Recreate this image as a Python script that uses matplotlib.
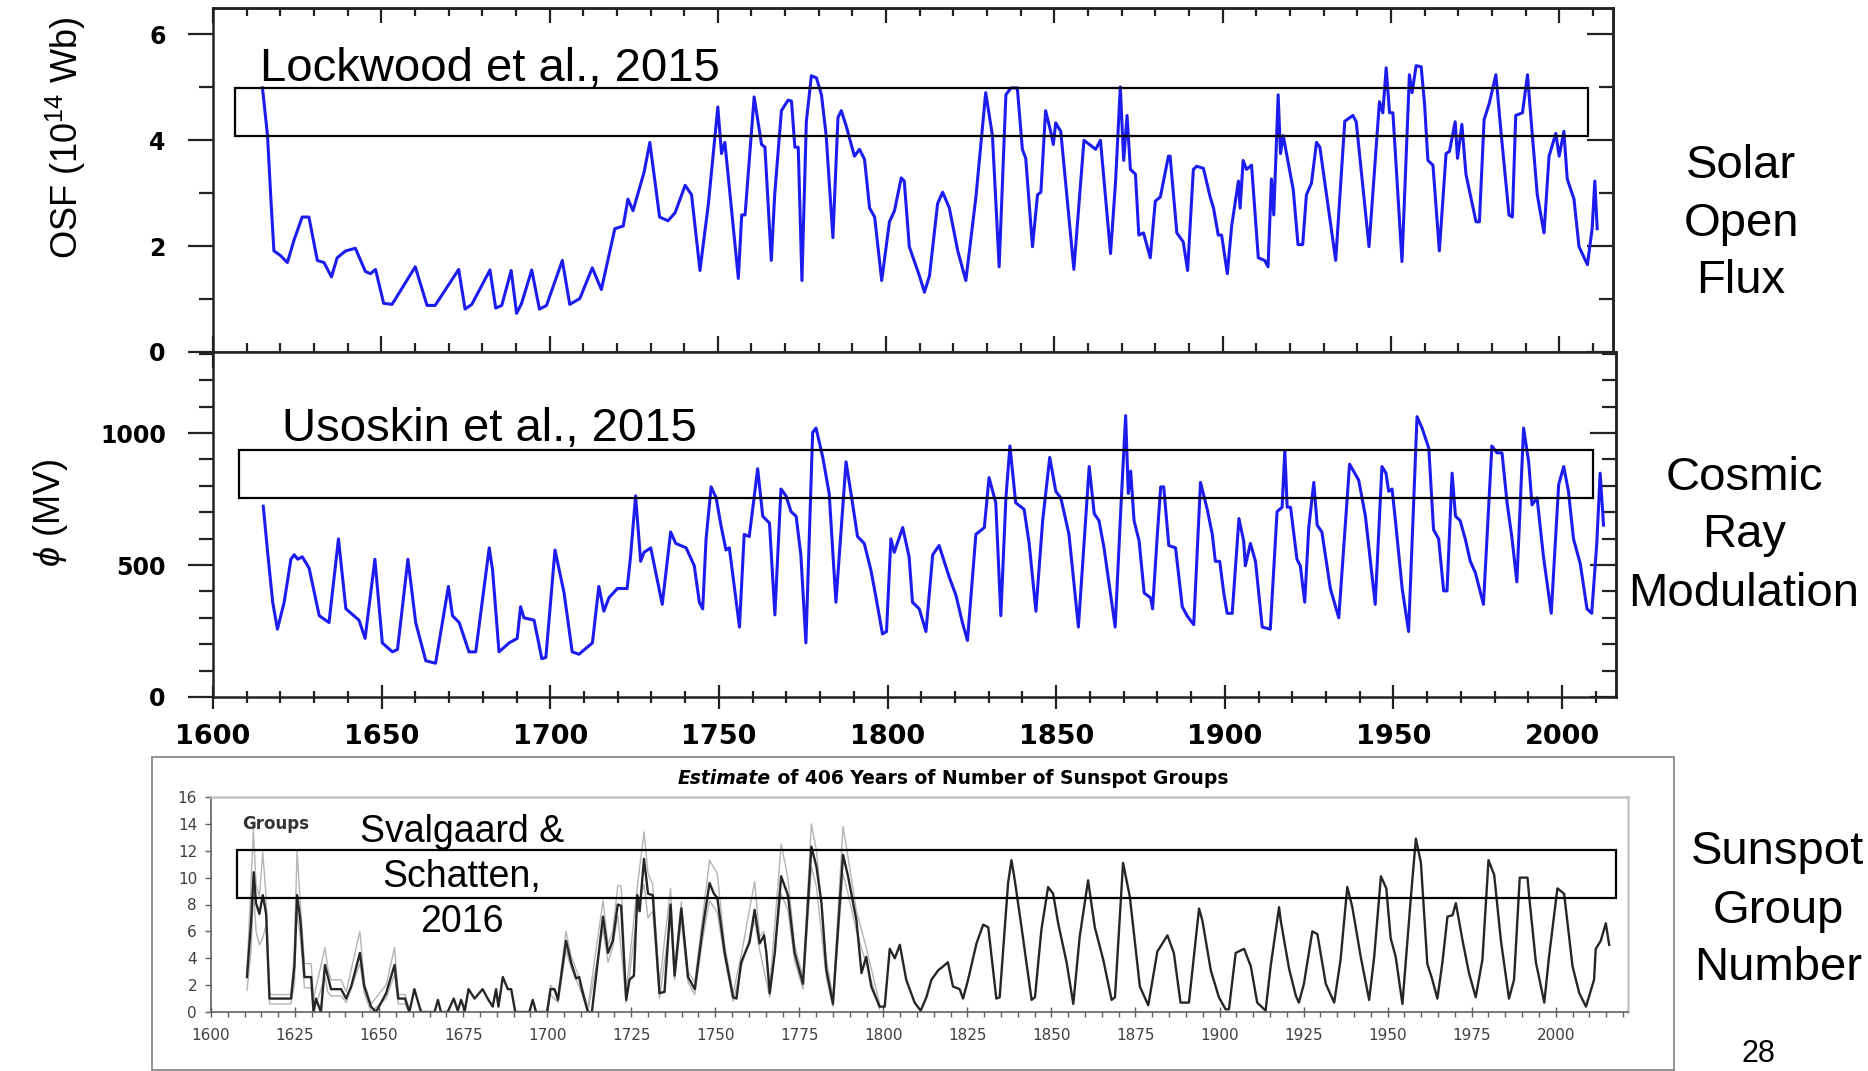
import numpy as np
import matplotlib
matplotlib.use("Agg")
import matplotlib.pyplot as plt
from matplotlib.ticker import MultipleLocator, NullFormatter
from matplotlib.patches import Rectangle

plt.rcParams['font.family'] = ['Liberation Sans', 'DejaVu Sans']
plt.rcParams['mathtext.fontset'] = 'custom'
plt.rcParams['mathtext.rm'] = 'Liberation Sans'
plt.rcParams['mathtext.it'] = 'Liberation Sans:italic'

nan = np.nan

# ---------------- data ----------------
year_ticks = [1600, 1650, 1700, 1750, 1800, 1850, 1900, 1950, 2000]
osf_ticks = [0, 2, 4, 6]
phi_ticks = [0, 500, 1000]
grp_year_ticks = [1600, 1625, 1650, 1675, 1700, 1725, 1750, 1775, 1800, 1825,
                  1850, 1875, 1900, 1925, 1950, 1975, 2000]
grp_ticks = [0, 2, 4, 6, 8, 10, 12, 14, 16]

# open solar flux (1e14 Wb), Lockwood et al. 2015
osf_year = [
    1614.7, 1616.2, 1617.2, 1618.1, 1620.1, 1622.1, 1624.1, 1626.5, 1628.5, 1631.0,
    1633.0, 1635.2, 1636.9, 1639.4, 1642.3, 1645.3, 1646.8, 1648.3, 1650.7, 1653.2,
    1660.1, 1663.6, 1666.0, 1673.0, 1674.9, 1676.9, 1682.3, 1684.0, 1685.8, 1688.6,
    1690.2, 1691.7, 1694.7, 1697.0, 1699.1, 1703.8, 1706.0, 1709.0, 1712.7, 1715.4,
    1719.4, 1721.9, 1723.3, 1724.8, 1728.1, 1729.8, 1732.7, 1735.2, 1737.3, 1740.3,
    1742.2, 1744.7, 1747.2, 1750.0, 1751.1, 1752.1, 1756.1, 1757.1, 1758.1, 1760.8,
    1763.0, 1764.0, 1765.9, 1766.9, 1768.9, 1770.9, 1771.9, 1772.9, 1773.9, 1775.0,
    1776.3, 1777.8, 1779.3, 1780.8, 1782.2, 1784.2, 1785.7, 1786.7, 1788.2, 1790.6,
    1792.1, 1793.6, 1795.1, 1796.6, 1798.7, 1801.0, 1802.5, 1804.5, 1805.4, 1806.9,
    1809.9, 1811.4, 1812.9, 1815.3, 1816.8, 1818.8, 1821.3, 1823.7, 1826.7, 1829.6,
    1831.6, 1833.6, 1835.6, 1837.1, 1839.0, 1840.5, 1841.5, 1843.5, 1845.0, 1846.0,
    1847.4, 1848.9, 1849.7, 1850.4, 1851.9, 1855.8, 1858.8, 1862.3, 1863.7, 1866.7,
    1868.2, 1869.6, 1870.6, 1871.6, 1872.6, 1874.1, 1875.1, 1876.5, 1878.5, 1880.0,
    1881.5, 1883.9, 1884.4, 1886.4, 1888.3, 1889.6, 1891.3, 1892.3, 1894.3, 1896.3,
    1897.3, 1898.7, 1899.7, 1901.4, 1902.7, 1904.7, 1905.2, 1906.1, 1907.1, 1908.6,
    1910.6, 1912.5, 1913.5, 1914.5, 1915.2, 1916.5, 1917.2, 1918.0, 1919.0, 1921.0,
    1922.4, 1923.8, 1924.9, 1926.4, 1927.9, 1928.9, 1933.6, 1936.3, 1938.7, 1939.7,
    1943.5, 1946.6, 1947.6, 1948.6, 1949.6, 1950.6, 1953.3, 1955.5, 1956.3, 1957.5,
    1959.0, 1960.0, 1961.0, 1962.5, 1964.4, 1966.4, 1967.4, 1969.1, 1969.8, 1971.1,
    1972.3, 1975.3, 1976.3, 1977.7, 1979.2, 1981.2, 1982.7, 1985.1, 1986.1, 1987.1,
    1989.1, 1990.6, 1991.6, 1993.5, 1995.5, 1997.0, 1999.0, 2000.0, 2001.4, 2002.4,
    2004.4, 2005.9, 2008.4, 2009.8, 2010.6, 2011.3]
osf_val = [
    4.99, 4.09, 2.89, 1.91, 1.82, 1.69, 2.12, 2.55, 2.55, 1.73,
    1.69, 1.42, 1.78, 1.91, 1.96, 1.52, 1.48, 1.56, 0.92, 0.90,
    1.61, 0.88, 0.88, 1.56, 0.81, 0.90, 1.55, 0.83, 0.88, 1.54,
    0.73, 0.92, 1.55, 0.81, 0.88, 1.73, 0.90, 1.01, 1.59, 1.18,
    2.33, 2.38, 2.89, 2.67, 3.40, 3.96, 2.55, 2.48, 2.63, 3.15,
    2.97, 1.54, 2.80, 4.63, 3.75, 3.96, 1.39, 2.59, 2.59, 4.82,
    3.92, 3.87, 1.73, 2.97, 4.56, 4.76, 4.74, 3.87, 3.87, 1.35,
    4.35, 5.22, 5.18, 4.86, 4.09, 2.16, 4.43, 4.56, 4.26, 3.70,
    3.83, 3.64, 2.72, 2.55, 1.35, 2.46, 2.67, 3.29, 3.23, 1.99,
    1.44, 1.13, 1.44, 2.80, 3.02, 2.72, 1.91, 1.35, 2.93, 4.90,
    4.09, 1.61, 4.86, 4.99, 4.99, 3.83, 3.66, 1.99, 2.97, 3.02,
    4.56, 4.17, 3.92, 4.33, 4.17, 1.56, 4.00, 3.83, 4.00, 1.86,
    3.23, 5.01, 3.62, 4.47, 3.45, 3.36, 2.21, 2.25, 1.78, 2.85,
    2.93, 3.70, 3.70, 2.25, 2.08, 1.54, 3.45, 3.51, 3.47, 2.93,
    2.72, 2.21, 2.21, 1.48, 2.39, 3.23, 2.72, 3.62, 3.45, 3.53,
    1.78, 1.73, 1.61, 3.27, 2.59, 4.86, 3.75, 4.09, 3.75, 3.06,
    2.03, 2.03, 2.97, 3.19, 3.96, 3.87, 1.73, 4.36, 4.47, 4.35,
    1.99, 4.73, 4.52, 5.37, 4.52, 4.52, 1.71, 5.24, 4.90, 5.41,
    5.39, 4.69, 3.62, 3.53, 1.91, 3.75, 3.79, 4.35, 3.66, 4.30,
    3.36, 2.46, 2.46, 4.39, 4.69, 5.24, 4.17, 2.59, 2.55, 4.47,
    4.52, 5.24, 4.43, 2.97, 2.25, 3.70, 4.13, 3.70, 4.17, 3.27,
    2.89, 1.99, 1.65, 2.33, 3.23, 2.33]

# cosmic ray modulation potential (MV), Usoskin et al. 2015
phi_year = [
    1614.9, 1616.2, 1617.7, 1619.1, 1621.1, 1623.1, 1624.1, 1625.1, 1626.5, 1628.5,
    1631.5, 1634.4, 1637.2, 1639.4, 1643.3, 1645.1, 1648.0, 1650.2, 1653.2, 1654.7,
    1657.8, 1660.1, 1663.1, 1666.0, 1669.8, 1671.0, 1673.0, 1675.9, 1677.9, 1681.9,
    1682.9, 1684.8, 1687.8, 1690.2, 1691.2, 1692.2, 1695.2, 1697.5, 1698.7, 1701.4,
    1704.1, 1706.5, 1708.5, 1712.5, 1714.4, 1715.9, 1717.4, 1719.9, 1722.8, 1723.8,
    1725.3, 1726.8, 1727.8, 1729.8, 1733.2, 1735.7, 1737.2, 1740.3, 1742.7, 1744.2,
    1745.2, 1746.2, 1747.7, 1749.2, 1750.6, 1752.1, 1753.1, 1756.1, 1757.5, 1759.0,
    1761.5, 1763.0, 1765.0, 1766.6, 1768.4, 1769.9, 1771.4, 1772.9, 1774.3, 1775.8,
    1777.8, 1778.8, 1780.8, 1782.7, 1784.7, 1787.7, 1789.6, 1791.1, 1793.1, 1795.1,
    1796.6, 1798.5, 1799.7, 1801.0, 1802.0, 1804.5, 1806.4, 1807.4, 1809.4, 1811.4,
    1813.4, 1815.3, 1818.3, 1820.3, 1822.2, 1823.7, 1826.2, 1828.7, 1830.1, 1832.1,
    1833.6, 1835.1, 1836.3, 1838.0, 1840.5, 1842.0, 1844.0, 1846.0, 1848.1, 1849.9,
    1851.4, 1853.8, 1856.6, 1859.8, 1861.3, 1862.7, 1864.2, 1867.5, 1869.2, 1870.6,
    1871.4, 1872.1, 1873.1, 1874.6, 1876.1, 1878.0, 1878.6, 1880.0, 1881.0, 1881.9,
    1883.4, 1885.4, 1887.4, 1888.8, 1890.8, 1892.8, 1894.8, 1896.3, 1897.2, 1898.5,
    1899.7, 1900.7, 1902.2, 1904.2, 1905.6, 1906.1, 1907.6, 1909.1, 1911.1, 1913.5,
    1915.5, 1917.0, 1917.8, 1918.5, 1919.5, 1921.4, 1922.4, 1923.7, 1924.9, 1926.4,
    1927.4, 1928.8, 1931.3, 1933.8, 1937.0, 1939.7, 1941.7, 1944.6, 1946.6, 1947.8,
    1948.6, 1949.6, 1950.6, 1952.6, 1954.5, 1957.0, 1958.5, 1960.5, 1961.9, 1963.4,
    1964.9, 1965.9, 1967.4, 1968.4, 1969.8, 1971.3, 1972.8, 1974.3, 1976.7, 1979.2,
    1980.7, 1982.2, 1983.7, 1985.1, 1986.6, 1988.6, 1990.1, 1991.1, 1992.6, 1994.5,
    1996.8, 1999.0, 2000.5, 2001.9, 2003.4, 2005.4, 2007.4, 2008.8, 2010.3, 2011.3,
    2012.3]
phi_val = [
    723, 548, 359, 257, 359, 522, 539, 522, 531, 488,
    308, 282, 599, 334, 291, 222, 522, 205, 171, 180,
    522, 282, 137, 128, 419, 308, 282, 171, 171, 565,
    480, 171, 205, 222, 342, 300, 291, 145, 150, 557,
    394, 171, 162, 205, 419, 325, 376, 411, 411, 531,
    762, 514, 548, 565, 351, 625, 582, 565, 497, 359,
    334, 599, 796, 754, 651, 557, 565, 265, 616, 608,
    865, 685, 659, 311, 788, 762, 702, 685, 539, 205,
    1002, 1019, 908, 771, 359, 891, 736, 608, 582, 479,
    376, 239, 248, 599, 548, 642, 531, 359, 334, 248,
    539, 574, 454, 385, 282, 214, 616, 642, 831, 736,
    308, 754, 951, 736, 711, 582, 325, 668, 908, 779,
    754, 616, 265, 873, 694, 668, 565, 265, 719, 1066,
    771, 856, 668, 591, 394, 376, 334, 616, 796, 796,
    574, 565, 342, 308, 274, 813, 711, 616, 514, 514,
    394, 317, 317, 676, 591, 497, 582, 514, 265, 257,
    702, 719, 934, 719, 719, 522, 497, 359, 642, 813,
    651, 625, 411, 300, 882, 822, 685, 351, 873, 848,
    779, 788, 668, 411, 248, 1062, 1019, 942, 634, 599,
    402, 402, 848, 685, 668, 599, 514, 471, 351, 951,
    925, 925, 736, 608, 436, 1019, 891, 728, 754, 531,
    317, 805, 873, 779, 599, 505, 334, 317, 582, 848,
    651]

# sunspot groups, Svalgaard & Schatten 2016
grp_year = [
    1610.7, 1611.9, 1612.7, 1613.4, 1614.4, 1615.4, 1616.4, 1617.4, 1623.8, 1624.8,
    1625.6, 1626.6, 1627.8, 1629.8, 1630.5, 1631.2, 1632.7, 1633.9, 1634.7, 1635.7,
    1638.7, 1640.2, 1641.7, 1644.3, 1645.6, 1647.6, 1649.1, 1652.1, 1654.6, 1655.7,
    1657.7, 1659.0, 1660.5, 1662.0, 1662.5, 1666.5, 1667.5, 1668.4, 1670.4, 1672.2,
    1673.4, 1674.4, 1675.5, 1676.6, 1678.4, 1680.8, 1682.3, 1683.8, 1684.8, 1685.5,
    1686.8, 1688.3, 1689.3, 1690.5, 1694.7, 1695.7, 1696.7, 1700.0, 1701.0, 1702.2,
    1703.2, 1705.6, 1707.1, 1708.6, 1709.5, 1710.3, 1712.1, 1713.3, 1716.6, 1718.1,
    1719.5, 1721.0, 1722.0, 1723.5, 1724.5, 1725.8, 1726.8, 1727.5, 1728.8, 1730.0,
    1731.4, 1733.4, 1734.9, 1736.7, 1737.9, 1739.9, 1741.9, 1743.9, 1746.3, 1748.3,
    1749.6, 1750.6, 1752.8, 1755.3, 1756.3, 1757.7, 1760.2, 1761.7, 1763.2, 1764.5,
    1765.2, 1766.2, 1767.7, 1769.6, 1771.6, 1773.6, 1776.1, 1778.6, 1780.1, 1781.6,
    1783.0, 1785.0, 1788.0, 1789.5, 1792.0, 1793.5, 1794.9, 1796.4, 1798.9, 1800.4,
    1801.9, 1803.4, 1804.9, 1806.8, 1809.3, 1811.1, 1812.8, 1814.3, 1816.3, 1817.8,
    1819.2, 1820.7, 1822.7, 1823.7, 1825.2, 1827.7, 1829.7, 1831.2, 1833.6, 1834.6,
    1837.1, 1838.1, 1839.1, 1841.1, 1844.1, 1845.1, 1847.0, 1849.0, 1850.5, 1852.0,
    1854.5, 1856.5, 1858.4, 1860.9, 1862.9, 1865.4, 1867.9, 1868.9, 1871.3, 1873.3,
    1876.3, 1878.8, 1881.5, 1884.5, 1886.4, 1888.4, 1890.9, 1893.9, 1894.9, 1897.4,
    1899.8, 1901.8, 1902.8, 1904.8, 1907.3, 1909.3, 1911.2, 1913.7, 1915.2, 1917.7,
    1918.2, 1920.7, 1922.7, 1923.6, 1925.1, 1927.6, 1929.1, 1931.6, 1934.1, 1936.0,
    1938.0, 1939.5, 1942.0, 1944.5, 1946.0, 1948.0, 1949.6, 1950.9, 1952.4, 1954.4,
    1956.9, 1958.4, 1959.9, 1961.8, 1963.3, 1964.8, 1966.3, 1967.8, 1969.3, 1970.3,
    1972.3, 1974.2, 1976.2, 1978.2, 1980.0, 1981.7, 1983.7, 1986.1, 1987.6, 1989.3,
    1991.6, 1992.1, 1994.1, 1996.6, 1998.0, 2000.5, 2002.5, 2005.0, 2007.0, 2009.0,
    2011.4, 2011.9, 2013.4, 2014.9, 2015.9]
grp_val = [
    2.6, 6.6, 10.4, 8.1, 7.3, 8.7, 7.3, 1.0, 1.0, 3.4,
    8.7, 6.8, 2.6, 2.6, 0.0, 1.0, 0.0, 3.5, 2.7, 1.7,
    1.7, 1.0, 1.9, 4.4, 1.9, 0.4, 0.0, 1.4, 3.5, 1.0,
    1.0, 0.0, 1.7, 0.4, 0.0, 0.0, 0.9, 0.0, 0.0, 1.0,
    0.1, 0.9, 0.1, 1.7, 1.0, 1.7, 1.0, 0.4, 1.7, 0.4,
    2.6, 1.7, 1.7, 0.0, 0.0, 0.9, 0.0, 0.0, 1.7, 1.7,
    0.9, 5.3, 3.7, 2.5, 2.6, 1.7, 0.0, 0.0, 7.1, 4.4,
    5.3, 8.0, 7.9, 0.9, 2.4, 2.7, 8.7, 7.5, 11.4, 8.8,
    8.7, 1.4, 1.5, 8.0, 2.7, 7.7, 2.6, 1.7, 6.3, 9.6,
    8.8, 8.5, 4.4, 1.1, 1.0, 3.7, 5.2, 7.6, 5.1, 5.7,
    4.4, 1.4, 4.4, 10.1, 8.7, 4.4, 2.1, 12.3, 10.8, 8.1,
    3.2, 0.6, 11.7, 10.1, 6.8, 2.9, 4.1, 1.9, 0.4, 0.4,
    4.7, 4.0, 5.0, 2.4, 0.7, 0.1, 1.1, 2.4, 3.1, 3.4,
    3.7, 1.9, 1.7, 1.0, 2.4, 5.1, 6.5, 6.3, 1.0, 1.1,
    9.6, 11.3, 9.8, 6.3, 0.9, 1.1, 6.1, 9.3, 8.8, 6.6,
    3.7, 0.6, 5.6, 9.8, 6.3, 3.9, 0.9, 1.1, 11.1, 8.6,
    1.9, 0.5, 4.5, 5.7, 4.4, 0.7, 0.7, 7.7, 6.8, 3.1,
    1.1, 0.2, 0.2, 4.4, 4.7, 3.4, 0.7, 0.1, 3.4, 7.8,
    6.8, 3.2, 1.2, 0.7, 2.1, 6.0, 5.8, 2.1, 0.7, 3.9,
    9.3, 7.8, 4.1, 0.9, 4.1, 10.1, 9.2, 5.5, 4.1, 0.6,
    8.5, 12.9, 11.1, 3.6, 2.4, 1.0, 3.7, 7.1, 7.2, 8.1,
    5.3, 2.9, 1.1, 3.9, 11.3, 10.2, 5.3, 1.0, 2.4, 10.0,
    10.0, 8.6, 3.7, 0.7, 4.1, 9.2, 8.8, 3.4, 1.4, 0.4,
    2.4, 4.7, 5.3, 6.6, 5.0]

# grey upper / lower estimates (only visibly apart from the main line before 1800)
grp_hi_year = [
    1610.7, 1611.8, 1612.6, 1613.4, 1614.4, 1615.4, 1616.4, 1617.4, 1623.8, 1624.8,
    1625.6, 1626.6, 1627.8, 1629.8, 1630.5, 1633.9, 1634.8, 1635.7, 1638.7, 1640.2,
    1644.3, 1645.6, 1647.6, 1652.1, 1654.6, 1655.7, 1657.7, 1659.0, nan,
    1700.0, 1701.0, 1703.2, 1705.6, 1707.1, 1710.3, 1712.1, 1716.6, 1718.1, 1719.5,
    1721.0, 1722.0, 1723.5, 1726.8, 1728.8, 1730.0, 1731.4, 1733.4, 1736.7, 1737.9,
    1739.9, 1741.9, 1743.9, 1746.3, 1748.3, 1750.6, 1752.8, 1755.3, 1757.7, 1761.7,
    1763.2, 1764.5, 1766.2, 1769.6, 1771.6, 1773.6, 1776.1, 1778.6, 1780.1, 1783.0,
    1785.0, 1788.0, 1789.5, 1792.0, 1794.9, 1798.9]
grp_hi_val = [
    3.0, 9.0, 13.6, 9.5, 8.6, 11.9, 8.5, 1.3, 1.3, 4.5,
    12.0, 8.0, 3.6, 3.6, 1.0, 4.8, 3.2, 2.4, 2.4, 1.5,
    6.0, 2.2, 0.6, 2.0, 4.8, 1.3, 1.3, 0.2, nan,
    0.3, 2.0, 1.2, 6.0, 4.2, 2.0, 0.3, 8.3, 5.0, 6.0,
    9.4, 9.4, 1.5, 9.3, 13.4, 10.3, 9.5, 2.0, 9.2, 3.2,
    8.2, 3.0, 2.2, 7.2, 11.3, 10.3, 5.0, 1.4, 4.2, 9.7,
    5.6, 6.0, 1.8, 12.5, 10.0, 5.0, 2.6, 14.0, 12.0, 4.0,
    1.0, 13.8, 11.5, 7.5, 4.8, 0.6]
grp_lo_year = [
    1610.7, 1611.9, 1612.7, 1613.4, 1614.4, 1615.4, 1616.4, 1617.4, 1623.8, 1624.8,
    1625.6, 1626.6, 1627.8, 1629.8, 1630.5, 1633.9, 1634.7, 1635.7, 1638.7, 1640.2,
    1644.3, 1645.6, 1647.6, 1652.1, 1654.6, 1655.7, 1657.7, 1659.0, nan,
    1700.0, 1701.0, 1703.2, 1705.6, 1707.1, 1710.3, 1712.1, 1716.6, 1718.1, 1719.5,
    1721.0, 1723.5, 1726.8, 1728.8, 1730.0, 1731.4, 1733.4, 1736.7, 1737.9, 1739.9,
    1741.9, 1743.9, 1746.3, 1748.3, 1750.6, 1752.8, 1755.3, 1757.7, 1761.7, 1763.2,
    1766.2, 1769.6, 1771.6, 1773.6, 1776.1, 1778.6, 1780.1, 1783.0, 1785.0, 1788.0,
    1789.5, 1792.0, 1794.9, 1798.9]
grp_lo_val = [
    1.6, 4.5, 9.0, 6.0, 5.0, 5.5, 6.5, 0.6, 0.6, 2.0,
    7.5, 5.5, 1.8, 1.8, 0.0, 2.6, 1.5, 1.2, 1.2, 0.7,
    3.6, 1.4, 0.0, 1.0, 2.8, 0.6, 0.6, 0.0, nan,
    0.0, 1.3, 0.7, 4.6, 3.3, 1.4, 0.0, 6.2, 3.7, 4.8,
    7.2, 0.7, 7.5, 9.5, 7.0, 7.5, 1.0, 7.0, 2.4, 6.8,
    2.2, 1.3, 5.5, 8.3, 7.4, 4.0, 0.8, 3.3, 6.8, 4.6,
    1.1, 8.8, 7.6, 3.8, 1.7, 10.8, 9.3, 2.6, 0.4, 10.3,
    8.8, 6.0, 3.6, 0.2]

# ---------------- layout ----------------
W, H = 1868, 1071
fig = plt.figure(figsize=(W / 100, H / 100), dpi=100)
fig.patch.set_facecolor('white')


def fbox(x0, y0, x1, y1):
    # pixel box (origin top left) -> figure fraction [left, bottom, width, height]
    return [x0 / W, 1 - y1 / H, (x1 - x0) / W, (y1 - y0) / H]


def fpt(x, y):
    return x / W, 1 - y / H


ax1 = fig.add_axes(fbox(213, 8, 1613, 352))
ax2 = fig.add_axes(fbox(213, 352, 1616, 697))
ax3 = fig.add_axes(fbox(211, 797, 1628, 1012))

blue = '#1c1cf0'
tick_font = dict(fontweight='bold', family='DejaVu Sans')


def style_upper(ax, ymax, yticks, yminor):
    ax.set_xlim(1600, 2016)
    ax.set_ylim(0, ymax)
    for s in ax.spines.values():
        s.set_linewidth(1.8)
        s.set_color('#222222')
    ax.set_yticks(yticks, labels=[str(v) for v in yticks], fontsize=17, **tick_font)
    ax.yaxis.set_minor_locator(MultipleLocator(yminor))
    ax.tick_params(axis='y', which='major', direction='out', length=18, width=1.6,
                   pad=16, right=False, color='#222222')
    ax.tick_params(axis='y', which='minor', direction='out', length=10, width=1.6,
                   right=False, color='#222222')
    ax.xaxis.set_minor_locator(MultipleLocator(10))
    # inward ticks on the right side
    ry = ax.secondary_yaxis('right')
    ry.yaxis.set_major_locator(MultipleLocator(yticks[1] - yticks[0]))
    ry.yaxis.set_minor_locator(MultipleLocator(yminor))
    ry.yaxis.set_major_formatter(NullFormatter())
    ry.tick_params(which='major', direction='in', length=19, width=1.6, color='#222222')
    ry.tick_params(which='minor', direction='in', length=10, width=1.6, color='#222222')
    ry.spines['right'].set_linewidth(1.8)
    ry.spines['right'].set_color('#222222')


# --- top: open solar flux ---
style_upper(ax1, 6.5, osf_ticks, 1)
ax1.plot(osf_year, osf_val, color=blue, lw=2.2)
ax1.set_xticks(year_ticks)
ax1.tick_params(axis='x', which='major', direction='inout', length=23, width=1.6,
                labelbottom=False, color='#222222')
ax1.tick_params(axis='x', which='minor', direction='inout', length=13, width=1.6,
                color='#222222')
tx = ax1.secondary_xaxis('top')
tx.xaxis.set_major_locator(MultipleLocator(50))
tx.xaxis.set_minor_locator(MultipleLocator(10))
tx.xaxis.set_major_formatter(NullFormatter())
tx.tick_params(which='major', direction='in', length=11, width=1.6, color='#222222')
tx.tick_params(which='minor', direction='in', length=6, width=1.6, color='#222222')
tx.spines['top'].set_linewidth(1.8)
tx.spines['top'].set_color('#222222')

# --- middle: cosmic ray modulation ---
style_upper(ax2, 1307, phi_ticks, 100)
ax2.plot(phi_year, phi_val, color=blue, lw=2.2)
ax2.set_xticks(year_ticks, labels=[str(y) for y in year_ticks], fontsize=19.5, **tick_font)
ax2.tick_params(axis='x', which='major', direction='inout', length=17, width=1.6, pad=11,
                color='#222222')
ax2.tick_params(axis='x', which='minor', direction='inout', length=9, width=1.6,
                color='#222222')

# --- bottom: sunspot groups (excel-style inset) ---
ax3.set_xlim(1600, 2021.5)
ax3.set_ylim(0, 16)
ax3.plot(grp_hi_year, grp_hi_val, color='#b4b4b4', lw=1.0)
ax3.plot(grp_lo_year, grp_lo_val, color='#b4b4b4', lw=1.0)
ax3.plot(grp_year, grp_val, color='#262626', lw=1.7)
for side in ['left', 'bottom']:
    ax3.spines[side].set_color('#606060')
    ax3.spines[side].set_linewidth(1.2)
for side in ['top', 'right']:
    ax3.spines[side].set_color('#c4c4c4')
    ax3.spines[side].set_linewidth(1.8)
small = dict(fontsize=11, color='#404040', family='DejaVu Sans')
ax3.set_yticks(grp_ticks, labels=[str(v) for v in grp_ticks], **small)
ax3.tick_params(axis='y', direction='out', length=4, width=1, color='#606060', pad=6)
ax3.set_xticks(grp_year_ticks, labels=[str(v) for v in grp_year_ticks], **small)
ax3.xaxis.set_minor_locator(MultipleLocator(5))
ax3.tick_params(axis='x', which='major', direction='inout', length=7, width=1,
                color='#606060', pad=8)
ax3.tick_params(axis='x', which='minor', direction='out', length=3.5, width=1,
                color='#606060')

# frame round the inset image
fig.add_artist(Rectangle(fpt(152, 1070), 1522 / W, 313 / H, transform=fig.transFigure,
                         fill=False, ec='#8a8a8a', lw=1.3))

t1 = fig.text(*fpt(678, 784), 'Estimate', fontsize=13.5, fontweight='bold',
              fontstyle='italic', family='DejaVu Sans', va='baseline', ha='left')
ax3.annotate(' of 406 Years of Number of Sunspot Groups', xy=(1, 0), xycoords=t1,
             va='bottom', ha='left', fontsize=13.5, fontweight='bold',
             family='DejaVu Sans', annotation_clip=False)
fig.text(*fpt(242, 829), 'Groups', fontsize=12, fontweight='bold', color='#333333',
         family='DejaVu Sans', va='baseline', ha='left')

# ---------------- axis labels ----------------
fig.text(*fpt(66, 138), 'OSF (10$^{14}$ Wb)', rotation=90, ha='center', va='center',
         fontsize=26)
fig.text(*fpt(50, 513), r'$\phi$ (MV)', rotation=90, ha='center', va='center',
         fontsize=26)

# ---------------- highlight boxes and annotations ----------------
for x0, y0, x1, y1 in [(235, 88, 1588, 136), (239, 450, 1593, 498), (237, 850, 1616, 898)]:
    fig.add_artist(Rectangle(fpt(x0, y1), (x1 - x0) / W, (y1 - y0) / H,
                             transform=fig.transFigure, fill=False, ec='black', lw=1.6,
                             zorder=10))

fig.text(*fpt(260, 81), 'Lockwood et al., 2015', fontsize=34, va='baseline', ha='left')
fig.text(*fpt(282, 441), 'Usoskin et al., 2015', fontsize=34, va='baseline', ha='left')
for line, yb in zip(['Svalgaard &', 'Schatten,', '2016'], [842, 887, 932]):
    fig.text(*fpt(462, yb), line, fontsize=27, va='baseline', ha='center')

for lines, xc, bases in [(['Solar', 'Open', 'Flux'], 1741, [178, 236, 293]),
                         (['Cosmic', 'Ray', 'Modulation'], 1744, [490, 547, 606]),
                         (['Sunspot', 'Group', 'Number'], 1778, [864, 923, 980])]:
    for line, yb in zip(lines, bases):
        fig.text(*fpt(xc, yb), line, fontsize=34, va='baseline', ha='center')

# slide number, kept just inside the bottom edge
fig.text(*fpt(1758, 1069), '28', fontsize=22, va='bottom', ha='center')

fig.savefig('out.png', dpi=100, facecolor='white')
